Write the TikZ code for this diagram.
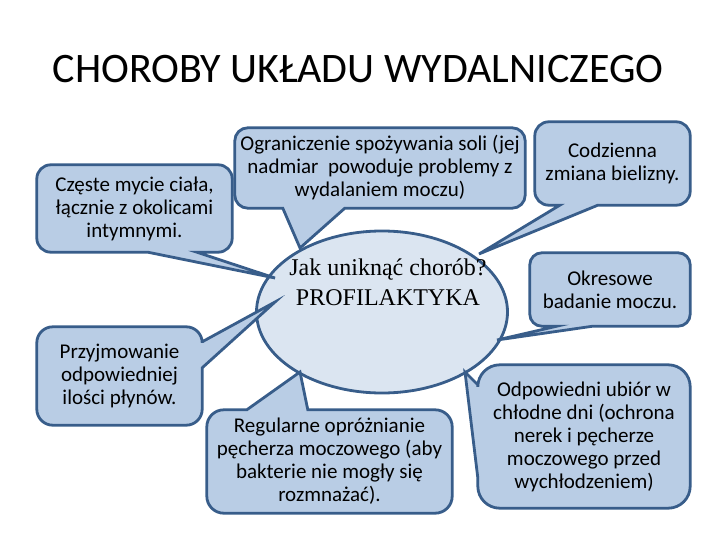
\documentclass[tikz,border=0pt]{standalone}
\usepackage{fontspec}
\setmainfont{Carlito}
\newfontfamily\proffont{Liberation Serif}
\usetikzlibrary{calc,shapes.geometric,backgrounds}

\definecolor{bubblefill}{RGB}{185,205,229}
\definecolor{bubbleline}{RGB}{56,93,138}
\definecolor{proffill}{RGB}{219,229,241}

\tikzset{
  title/.style={font=\fontsize{42}{50}\selectfont},
  bubbletext/.style={align=center, inner sep=0pt, font=\fontsize{21}{23}\selectfont},
  bubble/.style={draw=bubbleline, fill=bubblefill, line width=2.8pt, line join=miter},
  profshape/.style={ellipse, draw=bubbleline, fill=proffill, line width=2.8pt},
  proftext/.style={align=center, font=\proffont\fontsize{24}{30}\selectfont},
}

\begin{document}
\begin{tikzpicture}[x=1pt,y=-1pt]
\useasboundingbox (0,0) rectangle (720,540);

\node[title] (title) at (358,69) {CHOROBY UKŁADU WYDALNICZEGO};

% dymki z tekstem
\node[bubbletext, minimum width=195, minimum height=87] (czeste) at (134.5,208.5)
    {Częste mycie ciała,\\łącznie z okolicami\\intymnymi.};
\node[bubbletext, minimum width=290, minimum height=80] (sol) at (380,168)
    {Ograniczenie spożywania soli (jej\\nadmiar~ powoduje problemy z\\wydalaniem moczu)};
\node[bubbletext, minimum width=155, minimum height=83] (bielizna) at (612.5,163.5)
    {Codzienna\\zmiana bielizny.};
\node[bubbletext, minimum width=160, minimum height=73] (badanie) at (610,289.5)
    {Okresowe\\badanie moczu.};
\node[bubbletext, minimum width=165, minimum height=98] (plyny) at (119.5,376)
    {Przyjmowanie\\odpowiedniej\\ilości płynów.};
\node[bubbletext, minimum width=245, minimum height=103] (pecherz) at (329.5,461.5)
    {Regularne opróżnianie\\pęcherza moczowego (aby\\bakterie nie mogły się\\rozmnażać).};
\node[bubbletext, minimum width=212, minimum height=143] (ubior) at (584,436.5)
    {Odpowiedni ubiór w\\chłodne dni (ochrona\\nerek i pęcherze\\moczowego przed\\wychłodzeniem)};

% czubki dymkow
\coordinate (czeste tip) at (275,278);
\coordinate (sol tip) at (300,248);
\coordinate (bielizna tip) at (479,254);
\coordinate (badanie tip) at (497,340);
\coordinate (plyny tip) at (275,302);
\coordinate (pecherz tip) at (300,372);
\coordinate (ubior tip) at (465,372);

\begin{scope}[on background layer]
\node[profshape, minimum width=251, minimum height=162] (prof) at (382,312) {};

\draw[bubble] (czeste.north) [rounded corners=14pt] -- (czeste.north east) -- (czeste.south east)
    [sharp corners] -- ($(czeste.south west)+(160,0)$) -- (czeste tip) -- ($(czeste.south west)+(111,0)$)
    [rounded corners=14pt] -- (czeste.south west) -- (czeste.north west) -- cycle;
\draw[bubble] (sol.north) [rounded corners=13pt] -- (sol.north east) -- (sol.south east)
    [sharp corners] -- ($(sol.south west)+(110,0)$) -- (sol tip) -- ($(sol.south west)+(48,0)$)
    [rounded corners=13pt] -- (sol.south west) -- (sol.north west) -- cycle;
\draw[bubble] (bielizna.north) [rounded corners=14pt] -- (bielizna.north east) -- (bielizna.south east)
    [sharp corners] -- ($(bielizna.south west)+(63,0)$) -- (bielizna tip) -- ($(bielizna.south west)+(25,0)$)
    [rounded corners=14pt] -- (bielizna.south west) -- (bielizna.north west) -- cycle;
\draw[bubble] (badanie.north) [rounded corners=12pt] -- (badanie.north east) -- (badanie.south east)
    [sharp corners] -- ($(badanie.south west)+(63,0)$) -- (badanie tip) -- ($(badanie.south west)+(27,0)$)
    [rounded corners=12pt] -- (badanie.south west) -- (badanie.north west) -- cycle;
\draw[bubble] (plyny.north) [rounded corners=16pt] -- (plyny.north east)
    [sharp corners] -- ($(plyny.north east)+(0,15)$) -- (plyny tip) -- ($(plyny.north east)+(0,41)$)
    [rounded corners=16pt] -- (plyny.south east) -- (plyny.south west) -- (plyny.north west) -- cycle;
\draw[bubble] (pecherz.south) [rounded corners=17pt] -- (pecherz.south west) -- (pecherz.north west)
    [sharp corners] -- ($(pecherz.north west)+(40,0)$) -- (pecherz tip) -- ($(pecherz.north west)+(101,0)$)
    [rounded corners=17pt] -- (pecherz.north east) -- (pecherz.south east) -- cycle;
\draw[bubble] (ubior.north) [rounded corners=22pt] -- (ubior.north east) -- (ubior.south east) -- (ubior.south west)
    [sharp corners] -- ($(ubior.north west)+(0,113)$) -- (ubior tip) -- ($(ubior.north west)+(0,20)$)
    [rounded corners=22pt] -- (ubior.north west) -- cycle;
\end{scope}

\node[proftext] (proftext) at (388,282) {Jak uniknąć chorób?\\PROFILAKTYKA};
\end{tikzpicture}
\end{document}
